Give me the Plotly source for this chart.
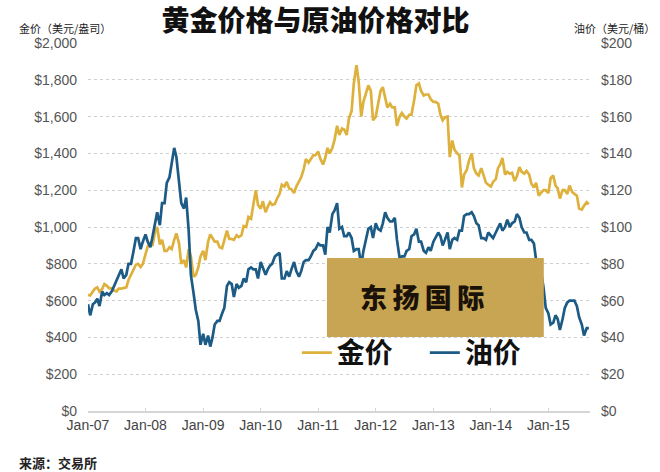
import pandas as pd
import plotly.graph_objects as go

# semi-monthly observations (1st and 15th of each month), Jan-2007 .. Sep-2015
gold_2007 = [632, 628, 650, 665, 672, 648, 663, 690, 680, 667, 668, 655, 650, 665, 665, 668, 672, 712, 743, 760, 795, 800, 783, 800]
gold_2008 = [850, 895, 915, 905, 970, 1000, 905, 930, 870, 870, 890, 880, 930, 965, 910, 800, 820, 780, 880, 840, 730, 740, 780, 840]
gold_2009 = [870, 820, 920, 960, 940, 920, 920, 890, 885, 930, 980, 935, 935, 930, 955, 945, 955, 1005, 1000, 1055, 1045, 1120, 1200, 1120]
gold_2010 = [1100, 1140, 1080, 1110, 1135, 1120, 1125, 1155, 1180, 1230, 1220, 1245, 1210, 1205, 1185, 1220, 1250, 1270, 1315, 1370, 1350, 1370, 1390, 1390]
gold_2011 = [1410, 1370, 1340, 1375, 1430, 1400, 1430, 1475, 1550, 1500, 1535, 1530, 1500, 1590, 1630, 1780, 1880, 1790, 1600, 1680, 1730, 1770, 1740, 1580]
gold_2012 = [1600, 1660, 1740, 1760, 1710, 1650, 1670, 1650, 1650, 1550, 1600, 1620, 1600, 1590, 1610, 1610, 1690, 1770, 1780, 1740, 1715, 1720, 1720, 1695]
gold_2013 = [1680, 1680, 1670, 1610, 1580, 1595, 1600, 1380, 1470, 1420, 1400, 1390, 1215, 1285, 1310, 1360, 1400, 1320, 1290, 1280, 1320, 1280, 1240, 1230]
gold_2014 = [1220, 1245, 1260, 1320, 1340, 1375, 1285, 1300, 1290, 1295, 1250, 1275, 1325, 1300, 1290, 1305, 1285, 1235, 1215, 1240, 1170, 1185, 1200, 1200]
gold_2015 = [1185, 1265, 1280, 1225, 1210, 1155, 1200, 1200, 1180, 1225, 1190, 1180, 1170, 1100, 1095, 1115, 1135, 1125]

oil_2007 = [58, 52, 58, 59, 61, 57, 65, 63, 64, 63, 65, 68, 71, 74, 77, 72, 74, 80, 80, 86, 94, 94, 88, 92]
oil_2008 = [96, 92, 89, 95, 102, 108, 101, 113, 113, 124, 127, 135, 143, 138, 124, 113, 110, 116, 98, 74, 64, 55, 49, 36]
oil_2009 = [42, 36, 41, 35, 40, 47, 49, 49, 53, 56, 68, 70, 69, 62, 69, 67, 68, 72, 70, 77, 78, 77, 77, 72]
oil_2010 = [81, 78, 74, 77, 79, 80, 84, 85, 86, 72, 72, 76, 73, 77, 81, 76, 73, 76, 81, 82, 82, 84, 87, 88]
oil_2011 = [91, 90, 90, 85, 100, 97, 107, 109, 113, 99, 100, 95, 95, 97, 94, 87, 88, 88, 79, 87, 93, 99, 100, 94]
oil_2012 = [102, 99, 98, 102, 108, 105, 103, 103, 105, 93, 83, 84, 84, 87, 88, 95, 96, 99, 92, 92, 87, 86, 89, 87]
oil_2013 = [92, 94, 97, 95, 90, 93, 97, 88, 93, 94, 93, 98, 98, 106, 107, 107, 108, 106, 102, 101, 94, 94, 93, 97]
oil_2014 = [95, 94, 97, 100, 102, 98, 100, 104, 100, 102, 103, 107, 105, 100, 97, 97, 93, 93, 91, 82, 79, 76, 67, 56]
oil_2015 = [53, 47, 48, 52, 50, 44, 50, 56, 59, 60, 60, 60, 57, 51, 47, 41, 45, 45]

gold = gold_2007 + gold_2008 + gold_2009 + gold_2010 + gold_2011 + gold_2012 + gold_2013 + gold_2014 + gold_2015
oil = oil_2007 + oil_2008 + oil_2009 + oil_2010 + oil_2011 + oil_2012 + oil_2013 + oil_2014 + oil_2015
dates = pd.date_range("2007-01-01", periods=len(gold), freq="SMS")

gold_ticks = [0, 200, 400, 600, 800, 1000, 1200, 1400, 1600, 1800, 2000]
gold_tick_labels = ["$0", "$200", "$400", "$600", "$800", "$1,000", "$1,200", "$1,400", "$1,600", "$1,800", "$2,000"]
oil_ticks = [0, 20, 40, 60, 80, 100, 120, 140, 160, 180, 200]
oil_tick_labels = ["$0", "$20", "$40", "$60", "$80", "$100", "$120", "$140", "$160", "$180", "$200"]

title_text = "黄金价格与原油价格对比"
left_axis_label = "金价（美元/盎司）"
right_axis_label = "油价（美元/桶）"
source_text = "来源：交易所"
watermark_text = "东\u2009扬\u2009国\u2009际"

GOLD_C = "#DDB13C"
OIL_C = "#1C5B85"
CJK = "Noto Sans CJK SC"
LAT = "Liberation Sans, Arial"

fig = go.Figure()
fig.add_trace(go.Scatter(x=dates, y=gold, name="金价", mode="lines",
                         line=dict(color=GOLD_C, width=2.7), yaxis="y"))
fig.add_trace(go.Scatter(x=dates, y=oil, name="油价", mode="lines",
                         line=dict(color=OIL_C, width=2.7), yaxis="y2"))

fig.update_layout(
    width=660, height=472,
    margin=dict(l=88, r=70, t=43, b=61, autoexpand=False),
    paper_bgcolor="white", plot_bgcolor="white",
    title=dict(text=title_text, x=0.478, xanchor="center", y=0.955, yanchor="middle",
               font=dict(family=CJK, size=28, color="#111", weight=900)),
    xaxis=dict(range=["2007-01-01", "2015-09-22"], dtick="M12", tick0="2007-01-01",
               tickformat="%b-%y", showgrid=False, zeroline=False, automargin=False,
               showline=True, linecolor="#d6d6d6", linewidth=1.5,
               ticks="inside", ticklen=3, tickcolor="#d6d6d6",
               tickfont=dict(family=LAT, size=14, color="#444")),
    yaxis=dict(range=[0, 2000], tickvals=gold_ticks, ticktext=gold_tick_labels,
               showgrid=True, gridcolor="#cfcfcf", griddash="3px,3px", gridwidth=1,
               zeroline=False, ticks="", ticklabelstandoff=10, automargin=False,
               tickfont=dict(family=LAT, size=14, color="#555")),
    yaxis2=dict(range=[0, 200], tickvals=oil_ticks, ticktext=oil_tick_labels, overlaying="y",
                side="right", showgrid=False, zeroline=False, ticks="", ticklabelstandoff=10,
                automargin=False,
                tickfont=dict(family=LAT, size=14, color="#555")),
    showlegend=True,
    legend=dict(orientation="h", x=0.416, xanchor="left", y=0.158, yanchor="middle",
                bgcolor="rgba(0,0,0,0)", entrywidth=83, entrywidthmode="pixels",
                itemwidth=30, font=dict(family=CJK, size=28, color="#111", weight=700)),
)

fig.add_shape(type="rect", xref="paper", yref="paper", x0=0.476, x1=0.908, y0=0.201, y1=0.416,
              fillcolor="#C8A552", line=dict(width=0), layer="above")
fig.add_annotation(text=watermark_text, xref="paper", yref="paper", x=0.665, y=0.31,
                   xanchor="center", yanchor="middle", showarrow=False,
                   font=dict(family=CJK, size=27, color="#1a1208", weight=900))
fig.add_annotation(text=left_axis_label, xref="paper", yref="paper", x=-0.1414, y=1.04,
                   xanchor="left", yanchor="middle", showarrow=False,
                   font=dict(family=CJK, size=11, color="#222"))
fig.add_annotation(text=right_axis_label, xref="paper", yref="paper", x=0.964, y=1.04,
                   xanchor="left", yanchor="middle", showarrow=False,
                   font=dict(family=CJK, size=11, color="#222"))
fig.add_annotation(text=source_text, xref="paper", yref="paper", x=-0.1414, y=-0.1386,
                   xanchor="left", yanchor="middle", showarrow=False,
                   font=dict(family=CJK, size=13, color="#222", weight=700))

fig.write_html("out.html", config={"displayModeBar": False},
               post_script="document.body.style.margin='0';")
